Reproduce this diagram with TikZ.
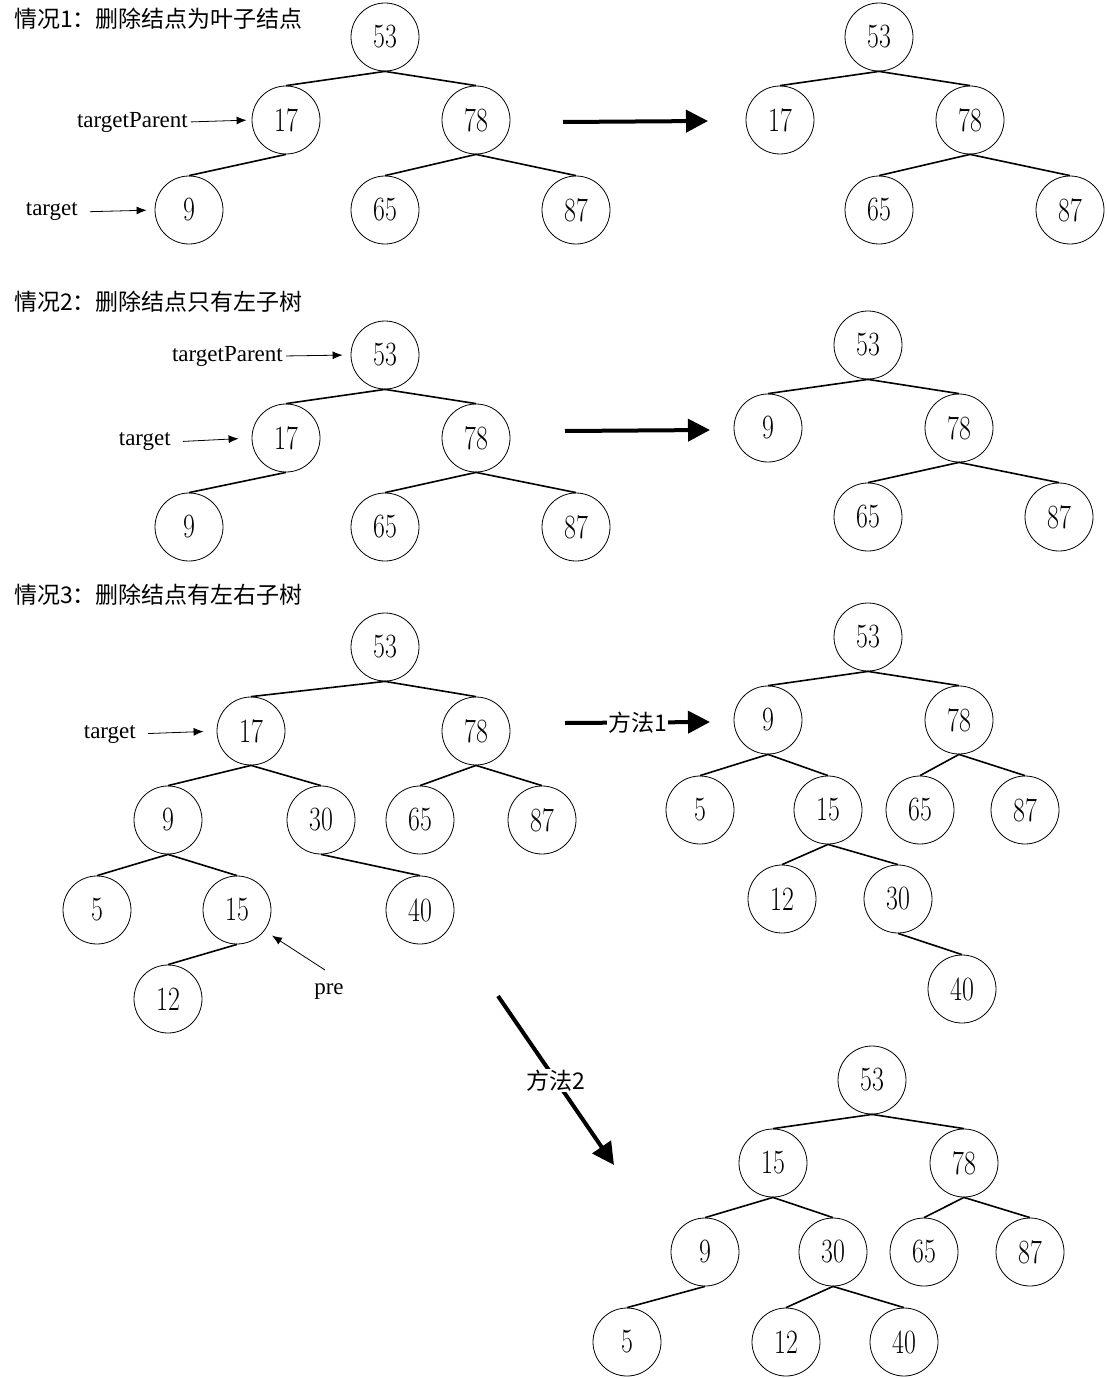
\documentclass[tikz,border=0pt]{standalone}
\usepackage{fontspec}
\setmainfont{Liberation Serif}
\newfontfamily\cjk{Noto Sans CJK SC}
\newfontfamily\lmnum{Latin Modern Roman}[FakeStretch=0.76]
\usetikzlibrary{arrows.meta}
\newcommand\numfnt{\fontsize{34}{34}\selectfont\lmnum}
\newcommand\lblfnt{\fontsize{23}{23}\selectfont}
\newcommand\hdrfnt{\fontsize{23}{23}\selectfont\cjk}
\tikzset{
  nd/.style={circle,draw,line width=0.8pt,minimum size=68pt,inner sep=0pt,font=\numfnt},
  ed/.style={line width=1.6pt},
  lbl/.style={font=\lblfnt,inner sep=0pt},
  hdr/.style={font=\hdrfnt,inner sep=0pt,anchor=west},
  sarr/.style={line width=0.8pt,-{Latex[length=10pt,width=8pt]}},
  bigarr/.style={line width=4pt,-{Triangle[length=22pt,width=22pt]}},
  mlab/.style={font=\hdrfnt,fill=white,inner sep=1pt}
}
\begin{document}
\begin{tikzpicture}[x=1pt,y=-1pt]
\useasboundingbox (0,0) rectangle (1107,1378);
% ===== Case 1 =====
\node[hdr] (h1) at (14,19) {情况1：删除结点为叶子结点};
\node[nd] (a53) at (385,37) {53};
\node[nd] (a17) at (286,120) {17};
\node[nd] (a78) at (476,120) {78};
\node[nd] (a9) at (189,210) {9};
\node[nd] (a65) at (385,210) {65};
\node[nd] (a87) at (576,210) {87};
\draw[ed] (a53.south) -- (a17.north);
\draw[ed] (a53.south) -- (a78.north);
\draw[ed] (a17.south) -- (a9.north);
\draw[ed] (a78.south) -- (a65.north);
\draw[ed] (a78.south) -- (a87.north);
\node[lbl,anchor=east] (tp1) at (188,122) {targetParent};
\draw[sarr,shorten <=3pt,shorten >=5pt] (tp1.east) -- (a17.west);
\node[lbl,anchor=east] (t1) at (78,212) {target};
\draw[sarr,shorten <=12pt,shorten >=8pt] (t1.east) -- (a9.west);
\coordinate (A1s) at (563,122);
\coordinate (A1e) at (708,121);
\draw[bigarr] (A1s) -- (A1e);
\node[nd] (b53) at (879,37) {53};
\node[nd] (b17) at (780,120) {17};
\node[nd] (b78) at (970,120) {78};
\node[nd] (b65) at (879,210) {65};
\node[nd] (b87) at (1070,210) {87};
\draw[ed] (b53.south) -- (b17.north);
\draw[ed] (b53.south) -- (b78.north);
\draw[ed] (b78.south) -- (b65.north);
\draw[ed] (b78.south) -- (b87.north);
% ===== Case 2 =====
\node[hdr] (h2) at (14,302) {情况2：删除结点只有左子树};
\node[nd] (c53) at (385,355) {53};
\node[nd] (c17) at (286,438) {17};
\node[nd] (c78) at (476,438) {78};
\node[nd] (c9) at (189,527) {9};
\node[nd] (c65) at (385,527) {65};
\node[nd] (c87) at (576,527) {87};
\draw[ed] (c53.south) -- (c17.north);
\draw[ed] (c53.south) -- (c78.north);
\draw[ed] (c17.south) -- (c9.north);
\draw[ed] (c78.south) -- (c65.north);
\draw[ed] (c78.south) -- (c87.north);
\node[lbl,anchor=east] (tp2) at (283,356) {targetParent};
\draw[sarr,shorten <=3pt,shorten >=8pt] (tp2.east) -- (c53.west);
\node[lbl,anchor=east] (t2) at (171,442) {target};
\draw[sarr,shorten <=12pt,shorten >=13pt] (t2.east) -- (c17.west);
\coordinate (A2s) at (565,431);
\coordinate (A2e) at (710,430);
\draw[bigarr] (A2s) -- (A2e);
\node[nd] (d53) at (868,345) {53};
\node[nd] (d9) at (768,428) {9};
\node[nd] (d78) at (959,428) {78};
\node[nd] (d65) at (868,517) {65};
\node[nd] (d87) at (1059,517) {87};
\draw[ed] (d53.south) -- (d9.north);
\draw[ed] (d53.south) -- (d78.north);
\draw[ed] (d78.south) -- (d65.north);
\draw[ed] (d78.south) -- (d87.north);
% ===== Case 3 =====
\node[hdr] (h3) at (14,595) {情况3：删除结点有左右子树};
\node[nd] (e53) at (385,647) {53};
\node[nd] (e17) at (251,731) {17};
\node[nd] (e78) at (476,731) {78};
\node[nd] (e9) at (168,820) {9};
\node[nd] (e30) at (321,820) {30};
\node[nd] (e65) at (420,820) {65};
\node[nd] (e87) at (542,820) {87};
\node[nd] (e5) at (97,910) {5};
\node[nd] (e15) at (237,910) {15};
\node[nd] (e40) at (420,910) {40};
\node[nd] (e12) at (168,999) {12};
\draw[ed] (e53.south) -- (e17.north);
\draw[ed] (e53.south) -- (e78.north);
\draw[ed] (e17.south) -- (e9.north);
\draw[ed] (e17.south) -- (e30.north);
\draw[ed] (e78.south) -- (e65.north);
\draw[ed] (e78.south) -- (e87.north);
\draw[ed] (e9.south) -- (e5.north);
\draw[ed] (e9.south) -- (e15.north);
\draw[ed] (e30.south) -- (e40.north);
\draw[ed] (e15.south) -- (e12.north);
\node[lbl,anchor=east] (t3) at (136,734) {target};
\draw[sarr,shorten <=12pt,shorten >=13pt] (t3.east) -- (e17.west);
\node[lbl] (pre) at (329,992) {pre};
\coordinate (pres) at (325,970);
\draw[sarr,shorten >=9pt] (pres) -- (e15.-37);
% method 1
\coordinate (M1s) at (565,723);
\coordinate (M1e) at (710,722);
\draw[bigarr] (M1s) -- (M1e) node[mlab,midway] (m1) {方法1};
\node[nd] (f53) at (868,637) {53};
\node[nd] (f9) at (768,720) {9};
\node[nd] (f78) at (959,720) {78};
\node[nd] (f5) at (700,810) {5};
\node[nd] (f15) at (828,810) {15};
\node[nd] (f65) at (920,810) {65};
\node[nd] (f87) at (1025,810) {87};
\node[nd] (f12) at (782,899) {12};
\node[nd] (f30) at (898,899) {30};
\node[nd] (f40) at (962,989) {40};
\draw[ed] (f53.south) -- (f9.north);
\draw[ed] (f53.south) -- (f78.north);
\draw[ed] (f9.south) -- (f5.north);
\draw[ed] (f9.south) -- (f15.north);
\draw[ed] (f78.south) -- (f65.north);
\draw[ed] (f78.south) -- (f87.north);
\draw[ed] (f15.south) -- (f12.north);
\draw[ed] (f15.south) -- (f30.north);
\draw[ed] (f30.south) -- (f40.north);
% method 2
\coordinate (M2s) at (498,996);
\coordinate (M2e) at (614,1165);
\draw[bigarr] (M2s) -- (M2e) node[mlab,midway] (m2) {方法2};
\node[nd] (g53) at (872,1080) {53};
\node[nd] (g15) at (773,1163) {15};
\node[nd] (g78) at (964,1163) {78};
\node[nd] (g9) at (705,1252) {9};
\node[nd] (g30) at (833,1252) {30};
\node[nd] (g65) at (924,1252) {65};
\node[nd] (g87) at (1030,1252) {87};
\node[nd] (g5) at (627,1342) {5};
\node[nd] (g12) at (786,1342) {12};
\node[nd] (g40) at (904,1342) {40};
\draw[ed] (g53.south) -- (g15.north);
\draw[ed] (g53.south) -- (g78.north);
\draw[ed] (g15.south) -- (g9.north);
\draw[ed] (g15.south) -- (g30.north);
\draw[ed] (g78.south) -- (g65.north);
\draw[ed] (g78.south) -- (g87.north);
\draw[ed] (g9.south) -- (g5.north);
\draw[ed] (g30.south) -- (g12.north);
\draw[ed] (g30.south) -- (g40.north);
\end{tikzpicture}
\end{document}
